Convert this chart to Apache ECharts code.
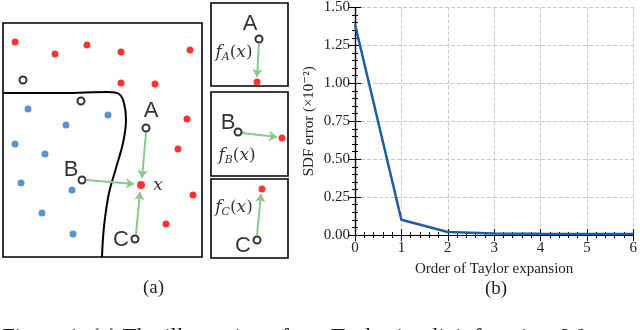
<!DOCTYPE html>
<html><head><meta charset="utf-8">
<script src="https://cdn.jsdelivr.net/npm/echarts@6/dist/echarts.min.js"></script>
<style>html,body{margin:0;padding:0;background:#fff}#c{width:640px;height:330px}</style>
</head><body><div id="c"></div>
<script>
// ---- panel (b) data ----
const orders = [0, 1, 2, 3, 4, 5, 6];
const sdfError = [1.39, 0.10, 0.02, 0.01, 0.008, 0.007, 0.007];
const yTicks = [0, 0.25, 0.5, 0.75, 1.0, 1.25, 1.5];

// ---- panel (a) diagram data (box-local units) ----
const redPts = [[12,19],[52,31],[84,22],[118,29],[187,27],[118,60],[152,61],[184,96],[175,126],[190,172],[163,201]];
const queryPt = [[138,162]];
const bluePts = [[25,86],[105,92],[63,102],[12,121],[42,131],[18,160],[69,167],[39,190],[70,211]];
const openPts = [[20,57],[78,78],[143,105],[79,157],[132,216]];
const boundary = [[0,70],[60,70],[105,69],[116,71],[121,80],[123,97],[120,120],[113,145],[106,170],[102,195],[100,215],[99,234]];
const arrowsMain = [[[143,110],[139,155]],[[84,157],[131,161]],[[133,211],[137,169]]];
const labelsMain = [['A',148,88],['B',68,147],['C',118,217]];
const xLabelMain = [[155,163]];

const panelA = {open:[[48,36]], red:[[46,79]], arrow:[[48,41],[46,74]], letter:['A',39,21], f:['A',23,50]};
const panelB = {open:[[27,40]], red:[[71,46]], arrow:[[31,41],[66,45]], letter:['B',17,31], f:['B',26,64]};
const panelC = {open:[[46,61]], red:[[51,10]], arrow:[[46,56],[50,15]], letter:['C',32,67], f:['C',23,29]};

const serif = "'DejaVu Serif','Liberation Serif',serif";
const tserif = "'Liberation Serif','DejaVu Serif',serif";
const sans = "'Liberation Sans','DejaVu Sans',sans-serif";
const RED = '#ff0000', BLUE = '#2f78c4', GREEN = '#8cc88c';

const chart = echarts.init(document.getElementById('c'), null, {renderer:'canvas'});

const grids = [
  {left:355, top:6, width:280, height:229},
  {left:3, top:23, width:199, height:234, show:true, borderColor:'#000', borderWidth:1.6, backgroundColor:'transparent'},
  {left:211, top:3, width:77, height:83, show:true, borderColor:'#000', borderWidth:1.6, backgroundColor:'transparent'},
  {left:211, top:92, width:77, height:84, show:true, borderColor:'#000', borderWidth:1.6, backgroundColor:'transparent'},
  {left:211, top:179, width:77, height:79, show:true, borderColor:'#000', borderWidth:1.6, backgroundColor:'transparent'}
];
const dims = [null,[199,234],[77,83],[77,84],[77,79]];

const xAxes = [
  {gridIndex:0, type:'value', min:0, max:6, interval:1, position:'bottom',
   name:'Order of Taylor expansion', nameLocation:'middle', nameGap:27,
   nameTextStyle:{fontFamily:tserif, fontSize:15, color:'#222'},
   axisLine:{lineStyle:{color:'#000', width:1.2}},
   axisTick:{inside:true, length:6, lineStyle:{color:'#000'}},
   minorTick:{show:true, splitNumber:5, length:3, lineStyle:{color:'#000'}},
   axisLabel:{fontFamily:tserif, fontSize:15, color:'#222', margin:6},
   splitLine:{show:true, lineStyle:{type:'dashed', color:'#c8c8c8'}}},
  {gridIndex:0, type:'value', min:0, max:6, interval:1, position:'top',
   axisLine:{lineStyle:{color:'#000', width:1.2}},
   axisTick:{inside:true, length:6, lineStyle:{color:'#000'}},
   minorTick:{show:true, splitNumber:5, length:3, lineStyle:{color:'#000'}},
   axisLabel:{show:false}, splitLine:{show:false}}
];
const yAxes = [
  {gridIndex:0, type:'value', min:0, max:1.5, interval:0.25, position:'left',
   name:'SDF error (×10⁻²)', nameLocation:'middle', nameGap:38,
   nameTextStyle:{fontFamily:tserif, fontSize:15, color:'#222'},
   axisLine:{lineStyle:{color:'#000', width:1.2}},
   axisTick:{inside:true, length:6, lineStyle:{color:'#000'}},
   minorTick:{show:true, splitNumber:5, length:3, lineStyle:{color:'#000'}},
   axisLabel:{fontFamily:tserif, fontSize:15, color:'#222', margin:5, formatter:v=>v.toFixed(2)},
   splitLine:{show:true, lineStyle:{type:'dashed', color:'#c8c8c8'}}},
  {gridIndex:0, type:'value', min:0, max:1.5, interval:0.25, position:'right',
   axisLine:{lineStyle:{color:'#000', width:1.2}},
   axisTick:{inside:true, length:6, lineStyle:{color:'#000'}},
   minorTick:{show:true, splitNumber:5, length:3, lineStyle:{color:'#000'}},
   axisLabel:{show:false}, splitLine:{show:false}}
];
for (let g=1; g<=4; g++) {
  xAxes.push({gridIndex:g, type:'value', min:0, max:dims[g][0], show:false});
  yAxes.push({gridIndex:g, type:'value', min:0, max:dims[g][1], inverse:true, show:false});
}
const ax = g => ({xAxisIndex:g+1, yAxisIndex:g+1});

const series = [
  {type:'line', xAxisIndex:0, yAxisIndex:0, data:orders.map((o,i)=>[o, sdfError[i]]),
   symbol:'none', lineStyle:{color:'#1f5ca6', width:2.5}, z:5}
];

function dots(g, pts, color, size, z) {
  series.push(Object.assign({type:'scatter', data:pts, symbol:'circle', symbolSize:size,
    itemStyle:{color:color}, z:z||4, silent:true}, ax(g)));
}
function rings(g, pts) {
  series.push(Object.assign({type:'scatter', data:pts, symbol:'circle', symbolSize:7,
    itemStyle:{color:'#fff', borderColor:'#000', borderWidth:2}, z:6, silent:true}, ax(g)));
}
function arrows(g, segs) {
  series.push(Object.assign({type:'lines', coordinateSystem:'cartesian2d', data:segs.map(s=>({coords:s})),
    symbol:['none','arrow'], symbolSize:8, lineStyle:{color:GREEN, width:2, opacity:1}, z:5, silent:true}, ax(g)));
}
function letters(g, items) {
  series.push(Object.assign({type:'scatter', symbolSize:0,
    data:items.map(t=>({value:[t[1],t[2]], name:t[0]})),
    label:{show:true, position:'inside', formatter:p=>p.name, fontFamily:sans, fontSize:22, color:'#000'},
    z:7, silent:true}, ax(g)));
}
function fLabel(g, item) {
  series.push(Object.assign({type:'scatter', symbolSize:0,
    data:[{value:[item[1],item[2]], name:item[0]}],
    label:{show:true, position:'inside', formatter:p=>'{i|f}{s|' + p.name + '}{n|(}{i|x}{n|)}',
      rich:{i:{fontFamily:serif, fontStyle:'italic', fontSize:17, color:'#000'},
            s:{fontFamily:serif, fontStyle:'italic', fontSize:11, color:'#000', verticalAlign:'bottom', padding:[8,0,0,0]},
            n:{fontFamily:serif, fontSize:17, color:'#000'}}},
    z:7, silent:true}, ax(g)));
}

series.push(Object.assign({type:'line', data:boundary, symbol:'none', smooth:0.35,
  lineStyle:{color:'#000', width:2}, z:3, silent:true}, ax(1)));
dots(1, redPts, RED, 7);
dots(1, bluePts, BLUE, 7);
arrows(1, arrowsMain);
dots(1, queryPt, RED, 8, 6);
rings(1, openPts);
letters(1, labelsMain);
series.push(Object.assign({type:'scatter', symbolSize:0, data:xLabelMain,
  label:{show:true, position:'inside', formatter:'x', fontFamily:serif, fontStyle:'italic', fontSize:17, color:'#000'},
  z:7, silent:true}, ax(1)));

[[2,panelA],[3,panelB],[4,panelC]].forEach(([g,p])=>{
  arrows(g, [p.arrow]);
  dots(g, p.red, RED, 7, 6);
  rings(g, p.open);
  letters(g, [p.letter]);
  fLabel(g, p.f);
});

chart.setOption({
  animation:false,
  backgroundColor:'#fff',
  grid:grids, xAxis:xAxes, yAxis:yAxes, series:series,
  graphic:[
    {type:'text', left:143, top:279, style:{text:'(a)', fontFamily:tserif, fontSize:19, fill:'#222'}},
    {type:'text', left:485, top:280, style:{text:'(b)', fontFamily:tserif, fontSize:19, fill:'#222'}},
    {type:'text', left:2, top:326, style:{text:'Figure 1: (a) The illustration of our Taylor implicit function. W', fontFamily:tserif, fontSize:23, fill:'#222'}}
  ]
});
</script></body></html>
